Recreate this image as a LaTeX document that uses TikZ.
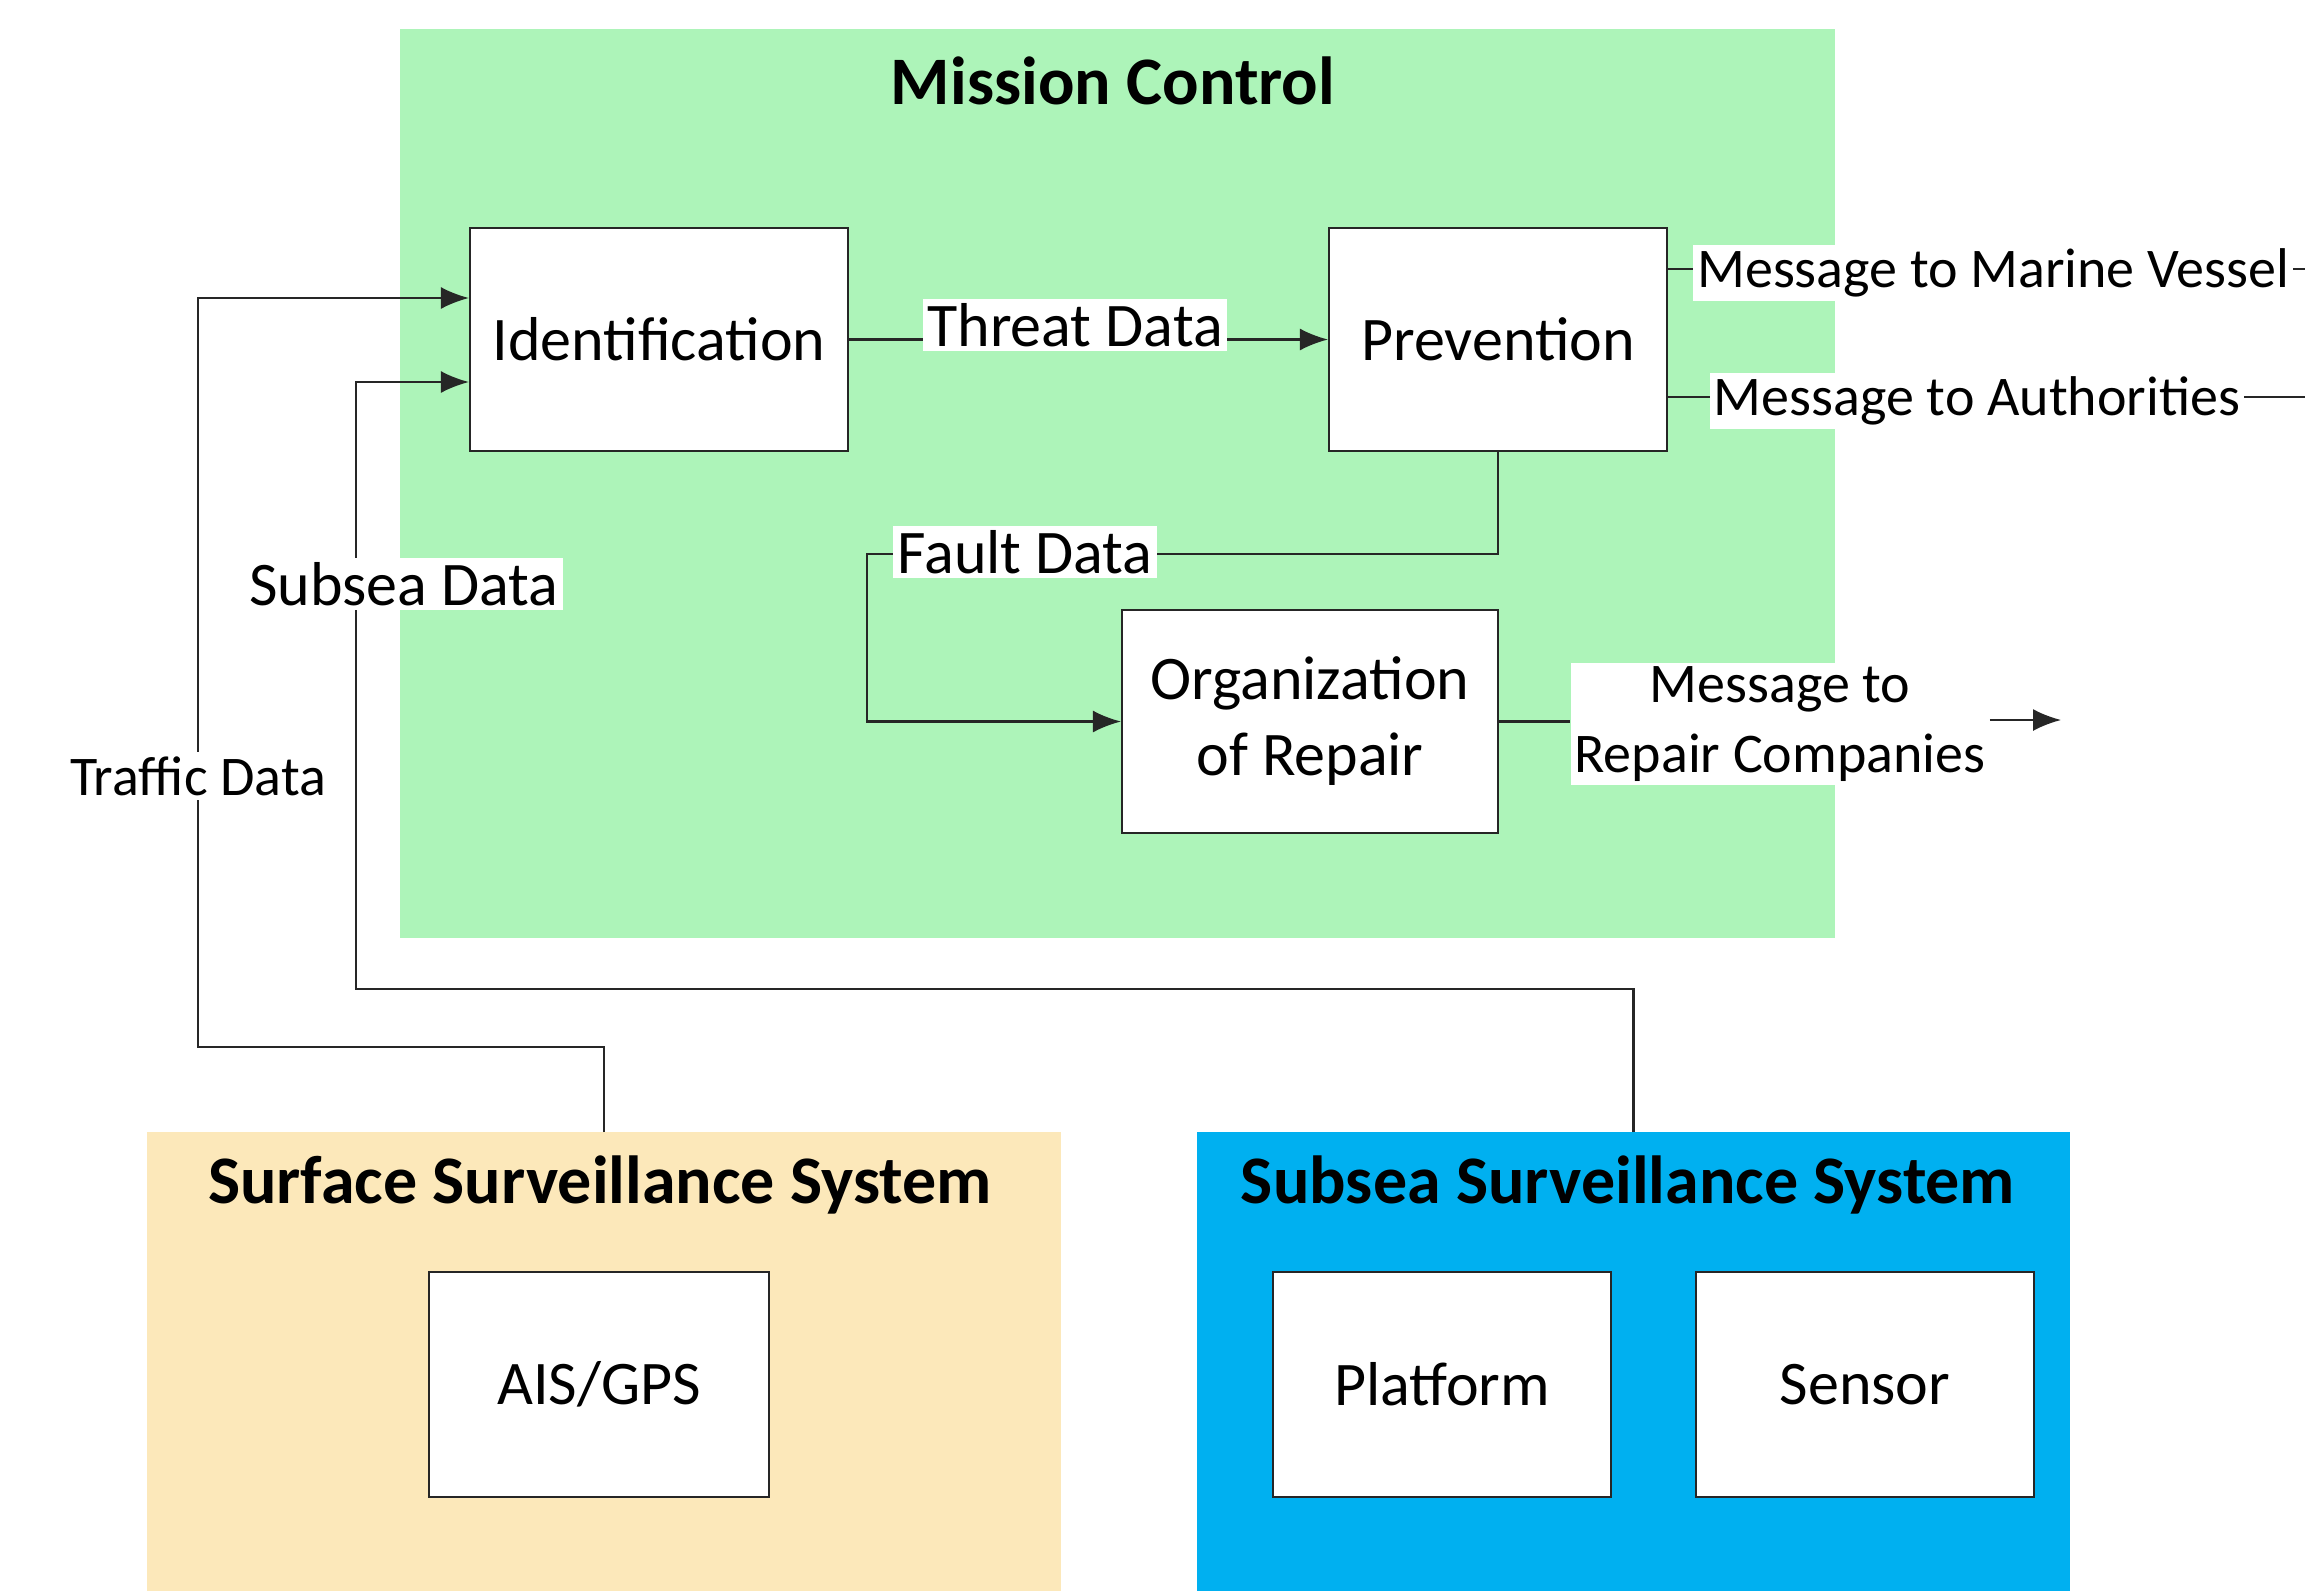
\documentclass[tikz,border=0pt]{standalone}
\usepackage{fontspec}
\setmainfont{Carlito}
\usetikzlibrary{arrows.meta}
\definecolor{mcgreen}{RGB}{173,244,185}
\definecolor{surftan}{RGB}{252,232,186}
\definecolor{subblue}{RGB}{0,176,240}
\begin{document}
\begin{tikzpicture}[x=0.5pt,y=-0.5pt,
  region/.style={inner sep=0pt, outer sep=0pt},
  box/.style={draw=black!85, line width=1.1pt, fill=white, inner sep=0pt, align=center,
    font=\fontsize{31}{38}\selectfont},
  lbl/.style={fill=white, inner sep=2pt, font=\fontsize{31}{37}\selectfont},
  slbl/.style={fill=white, inner sep=2pt, align=center, font=\fontsize{28}{35}\selectfont},
  titletext/.style={font=\bfseries\fontsize{34}{40}\selectfont},
  conn/.style={draw=black!85, line width=1.1pt},
  arr/.style={conn, -{Latex[length=14pt,width=11pt]}}
]
\useasboundingbox (0,0) rectangle (2305,1591);
\fill[white] (0,0) rectangle (2305,1591);

% regions
\node[region, fill=mcgreen, minimum width=717.5pt, minimum height=454.5pt] (mc) at (1117.5,483.5) {};
\node[region, fill=surftan, minimum width=457pt, minimum height=229.5pt] (surf) at (604,1361.5) {};
\node[region, fill=subblue, minimum width=436.5pt, minimum height=229.5pt] (subsea) at (1633.5,1361.5) {};

\node[titletext] (mct) at (1113,81) {Mission Control};
\node[titletext] (surft) at (600,1185) {Surface Surveillance System};
\node[titletext] (subt) at (1628,1185) {Subsea Surveillance System};

% boxes
\node[box, minimum width=189pt, minimum height=111.5pt] (ident) at (659,339.5) {Identification};
\node[box, minimum width=169pt, minimum height=111.5pt] (prev) at (1498,339.5) {Prevention};
\node[box, minimum width=188pt, minimum height=111.5pt] (org) at (1310,721.5) {Organization\\of Repair};
\node[box, minimum width=170pt, minimum height=112.5pt] (ais) at (599,1384.5) {AIS/GPS};
\node[box, minimum width=169pt, minimum height=112.5pt] (plat) at (1442,1384.5) {Platform};
\node[box, minimum width=169pt, minimum height=112.5pt] (sens) at (1865,1384.5) {Sensor};

% coordinates
\coordinate (mv) at (2310,269);
\coordinate (au) at (2310,397);
\coordinate (fd) at (867,554);
\coordinate (t1) at (198,1047);
\coordinate (s1) at (356,989);
\coordinate (rcEnd) at (2061,720);

% connectors
\draw[arr] (ident.east) -- (prev.west);
\draw[conn] (prev.east |- mv) -- (mv);
\draw[conn] (prev.east |- au) -- (au);
\draw[arr] (prev.south) |- (fd) |- (org.west);
\draw[arr] (surf.north) |- (t1) |- ([yshift=20.75pt]ident.west);
\draw[arr] (subsea.north) |- (s1) |- ([yshift=-21.25pt]ident.west);

% labels
\node[lbl] (td) at (1075,325) {Threat Data};
\node[slbl] (mvl) at (1993,273) {Message to Marine Vessel};
\node[slbl] (aul) at (1977,401) {Message to Authorities};
\node[lbl] (fdl) at (1025,552) {Fault Data};
\node[slbl] (rc) at (1780,724) {Message to\\Repair Companies};
\draw[conn] (org.east) -- (rc.west |- org.east);
\draw[arr] (rc.east |- rcEnd) -- (rcEnd);
\node[slbl] (tdl) at (198,776) {Traffic Data};
\node[lbl] (sdl) at (404,584) {Subsea Data};
\end{tikzpicture}
\end{document}
